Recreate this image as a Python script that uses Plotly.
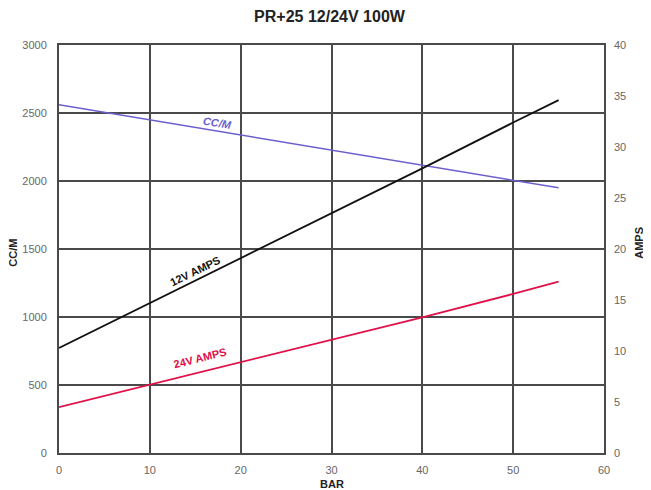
import plotly.graph_objects as go

bar = [0, 10, 20, 30, 40, 50, 55]
ccm = [2560, 2450, 2340, 2230, 2115, 2005, 1950]
amps_12v = [10.3, 14.7, 19.1, 23.5, 27.9, 32.4, 34.6]
amps_24v = [4.5, 6.7, 8.9, 11.1, 13.3, 15.6, 16.8]

x_ticks = [0, 10, 20, 30, 40, 50, 60]
y_ticks = [0, 500, 1000, 1500, 2000, 2500, 3000]
y2_ticks = [0, 5, 10, 15, 20, 25, 30, 35, 40]

GRID = "#4a4a4a"
TICKFONT = dict(family="Liberation Sans", size=11, color="#666")

fig = go.Figure()
fig.add_trace(go.Scatter(x=bar, y=ccm, mode="lines", line=dict(color="#6a5fd0", width=1.5),
                         name="CC/M", showlegend=False))
fig.add_trace(go.Scatter(x=bar, y=amps_12v, mode="lines", line=dict(color="#111111", width=1.8),
                         yaxis="y2", name="12V AMPS", showlegend=False))
fig.add_trace(go.Scatter(x=bar, y=amps_24v, mode="lines", line=dict(color="#e0104a", width=1.8),
                         yaxis="y2", name="24V AMPS", showlegend=False))

fig.update_layout(
    width=643, height=482,
    paper_bgcolor="white", plot_bgcolor="white",
    margin=dict(l=51, r=47, t=37, b=37),
    title=dict(text="<b>PR+25 12/24V 100W</b>", x=0.5, xanchor="center", y=0.982, yanchor="middle",
               font=dict(family="Liberation Sans", size=16, color="#222")),
    xaxis=dict(range=[0, 60], tickvals=x_ticks, showgrid=True, gridcolor=GRID, gridwidth=2,
               zeroline=False, showline=True, linecolor=GRID, linewidth=2, mirror=True,
               tickfont=TICKFONT, ticks="", ticklen=0, ticklabelstandoff=6, automargin=False),
    yaxis=dict(range=[0, 3000], tickvals=y_ticks, showgrid=True, gridcolor=GRID, gridwidth=2,
               zeroline=False, showline=True, linecolor=GRID, linewidth=2, mirror=True,
               tickfont=TICKFONT, ticks="", ticklen=0, ticklabelstandoff=8, automargin=False),
    yaxis2=dict(range=[0, 40], tickvals=y2_ticks, overlaying="y", side="right", showgrid=False,
                zeroline=False, showline=False, tickfont=TICKFONT, ticks="", ticklen=0,
                ticklabelstandoff=9, automargin=False),
    annotations=[
        dict(text="<b>BAR</b>", xref="paper", yref="paper", x=0.5, y=-0.076, xanchor="center",
             yanchor="middle", showarrow=False,
             font=dict(family="Liberation Sans", size=11, color="#222")),
        dict(text="<b>CC/M</b>", xref="paper", yref="paper", x=-0.085, y=0.49, xanchor="center",
             yanchor="middle", showarrow=False,
             textangle=-90, font=dict(family="Liberation Sans", size=11, color="#222")),
        dict(text="<b>AMPS</b>", xref="paper", yref="paper", x=1.064, y=0.515, xanchor="center",
             yanchor="middle", showarrow=False, textangle=-90,
             font=dict(family="Liberation Sans", size=11, color="#222")),
        dict(text="<b><i>CC/M</i></b>", x=17.5, y=2428, xref="x", yref="y", showarrow=False,
             textangle=9, font=dict(family="Liberation Sans", size=11, color="#6a5fd0")),
        dict(text="<b>12V AMPS</b>", x=15, y=1340, xref="x", yref="y", showarrow=False,
             textangle=-26, font=dict(family="Liberation Sans", size=11, color="#111")),
        dict(text="<b>24V AMPS</b>", x=15.5, y=700, xref="x", yref="y", showarrow=False,
             textangle=-14, font=dict(family="Liberation Sans", size=11, color="#e0104a")),
    ],
)

fig.write_html("out.html")
